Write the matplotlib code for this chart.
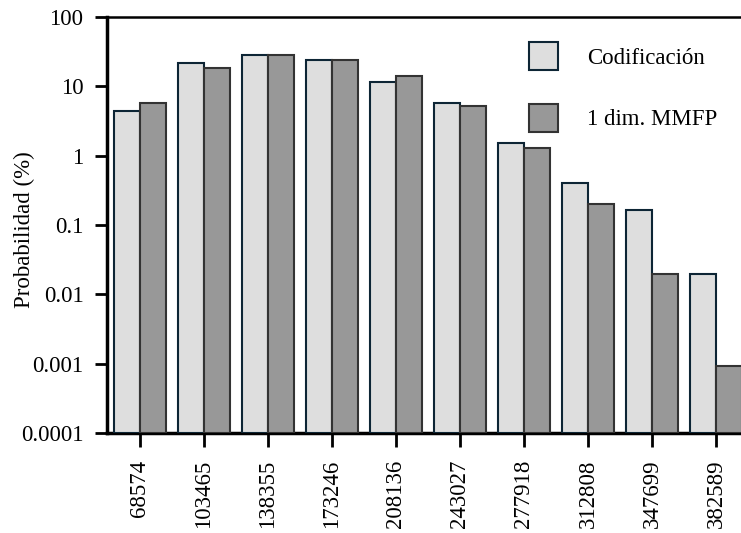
import matplotlib
matplotlib.use("Agg")
import matplotlib.pyplot as plt
import numpy as np

categories = ["68574", "103465", "138355", "173246", "208136",
              "243027", "277918", "312808", "347699", "382589"]
codificacion = [4.4, 21.5, 28.3, 23.7, 11.5, 5.7, 1.52, 0.40, 0.164, 0.0198]
mmfp = [5.8, 18.2, 28.3, 23.7, 14.1, 5.26, 1.28, 0.201, 0.0198, 0.00083]
ytick_vals = [100, 10, 1, 0.1, 0.01, 0.001, 0.0001]
ytick_labels = ["100", "10", "1", "0.1", "0.01", "0.001", "0.0001"]

plt.rcParams['font.family'] = ['Liberation Serif', 'DejaVu Serif']
FS = 16.5
plt.rcParams['font.size'] = FS

fig = plt.figure(figsize=(7.41, 5.33), dpi=100)
ax = fig.add_axes([107/741, 1-433/533, 1-107/741, (433-17)/533])

x = np.arange(len(categories))
w = 0.405
ax.bar(x - w/2, codificacion, width=w, bottom=0.0001, color="#dedede",
       edgecolor="#0d2535", linewidth=1.5, label="Codificación", zorder=3)
ax.bar(x + w/2, mmfp, width=w, bottom=0.0001, color="#989898",
       edgecolor="#333333", linewidth=1.5, label="1 dim. MMFP", zorder=3)

ax.set_yscale("log")
ax.set_ylim(0.0001, 100)
ax.set_xlim((107-140)/64, (741-140)/64)
ax.set_yticks(ytick_vals)
ax.set_yticklabels(ytick_labels, fontsize=FS)
ax.yaxis.set_minor_locator(matplotlib.ticker.NullLocator())
ax.set_xticks(x)
ax.set_xticklabels(categories, rotation=90, fontsize=FS)
ax.tick_params(axis="y", direction="out", length=9, width=2, pad=8)
ax.tick_params(axis="x", direction="out", length=10, width=2, pad=9)
ax.set_ylabel("Probabilidad (%)", fontsize=FS)
ax.yaxis.label.set_va("center")
ax.yaxis.set_label_coords((24-107)/634, 0.49)

ax.spines["right"].set_visible(False)
ax.spines["left"].set_linewidth(2.5)
ax.spines["bottom"].set_linewidth(2.5)
ax.spines["top"].set_linewidth(1.8)

leg = ax.legend(loc="upper left", bbox_to_anchor=(0.651, 0.962), frameon=False,
                fontsize=FS, handlelength=1.27, handleheight=1.5,
                labelspacing=1.48, handletextpad=1.27, borderaxespad=0)

fig.savefig("out.png", dpi=100)
